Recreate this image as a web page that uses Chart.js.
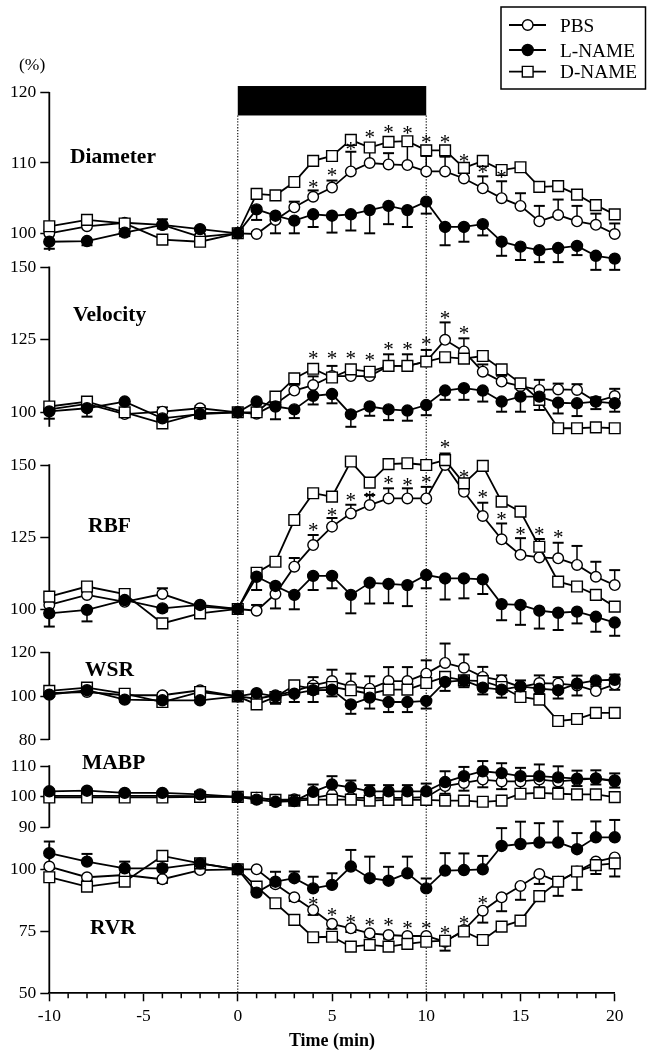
<!DOCTYPE html>
<html>
<head>
<meta charset="utf-8">
<script src="https://cdn.jsdelivr.net/npm/chart.js@4.4.1/dist/chart.umd.min.js"></script>
<style>
html,body{margin:0;padding:0;background:#fff;}
canvas{display:block;}
</style>
</head>
<body>
<canvas id="c" width="647" height="1055"></canvas>
<script>
// ---------------- DATA ----------------
const times = [-10,-8,-6,-4,-2,0,1,2,3,4,5,6,7,8,9,10,11,12,13,14,15,16,17,18,19,20];
const seriesNames = ['PBS', 'L-NAME', 'D-NAME'];
const xTickLabels = [-10, -5, 0, 5, 10, 15, 20];
const treatmentWindow = [0, 10];

const diameterTicks = [100, 110, 120];
const velocityTicks = [100, 125, 150];
const rbfTicks = [100, 125, 150];
const wsrTicks = [80, 100, 120];
const mabpTicks = [90, 100, 110];
const rvrTicks = [50, 75, 100];

const diameterPBS   = [100.0,101.0,101.5,101.2,99.5,100,99.9,101.9,103.7,105.2,106.5,108.8,110.0,109.8,109.7,108.8,108.8,107.8,106.4,105.0,103.9,101.7,102.6,101.7,101.2,99.9];
const diameterLNAME = [98.8,98.9,100.1,101.2,100.6,100,103.4,102.5,101.8,102.7,102.5,102.7,103.3,103.9,103.3,104.5,100.9,100.9,101.3,98.8,98.1,97.6,97.9,98.2,96.8,96.4];
const diameterDNAME = [101.0,101.9,101.4,99.1,98.8,100,105.6,105.4,107.3,110.3,111.0,113.3,112.2,113.0,113.1,111.8,111.8,109.3,110.3,109.0,109.4,106.6,106.7,105.5,104.0,102.7];
const diameterPBSErr   = [0.5,0.6,0.5,0.8,0.4,0,0.3,0.8,0.8,0.9,1.0,2.8,1.8,1.6,3.3,2.2,2.1,1.7,1.7,2.4,1.8,2.2,2.2,2.2,1.6,1.5];
const diameterLNAMEErr = [1.0,0.6,0.5,0.5,0.3,0,1.5,2.5,1.8,1.8,2.4,2.3,3.3,2.6,2.4,1.7,2.6,2.1,1.6,2.0,1.9,1.7,2.0,1.3,2.0,1.6];
const diameterStars = [[4,107.1],[5,108.8],[6,112.5],[7,114.2],[8,114.9],[9,114.7],[10,113.5],[11,113.5],[12,110.8],[13,109.2],[14,108.5]];

const velocityPBS   = [101.0,102.9,99.4,100.2,101.4,100,99.5,102.9,107.5,109.4,112.5,112.5,112.5,116.0,116.0,117.5,125.0,121.0,114.0,110.6,109.0,107.7,107.9,107.7,103.7,105.6];
const velocityLNAME = [100.3,101.4,103.7,97.9,99.4,100,103.7,102.0,101.0,105.7,106.3,99.3,102.0,101.0,100.6,102.5,107.5,108.3,107.5,103.7,105.4,105.4,103.3,103.1,103.7,103.1];
const velocityDNAME = [102.0,103.7,100.0,96.2,99.7,100,100.0,105.4,111.7,115.0,112.0,114.8,114.0,116.0,116.0,117.5,119.0,118.5,119.4,114.8,110.0,104.3,94.5,94.5,94.8,94.5];
const velocityPBSErr   = [0.6,1.0,0.6,1.5,0.8,0,0.6,1.2,2.0,3.0,3.5,2.5,2.5,4.0,4.0,4.0,6.0,4.5,2.5,2.0,2.5,3.5,2.0,2.0,1.5,2.5];
const velocityLNAMEErr = [2.5,2.9,1.0,1.5,0.5,0,1.0,4.4,3.0,3.0,3.2,4.3,3.2,3.7,3.5,3.5,3.2,4.0,3.8,3.5,5.2,4.6,3.7,4.4,2.6,2.9];
const velocityStars = [[4,119.8],[5,119.8],[6,119.8],[7,119.4],[8,122.9],[9,122.9],[10,124.9],[11,133.6],[12,128.4]];

const rbfPBS   = [101.4,104.9,102.5,105.2,100.8,100,99.4,105.2,114.7,122.2,128.6,133.2,136.1,138.4,138.4,138.4,150.0,140.7,132.3,124.2,118.8,117.9,117.6,115.3,111.2,108.3];
const rbfLNAME = [98.5,99.7,103.1,100.2,101.4,100,111.2,108.0,104.9,111.5,111.5,104.9,109.1,108.7,108.3,111.8,110.6,110.6,110.3,101.7,101.4,99.4,98.7,99.1,97.3,95.3];
const rbfDNAME = [104.3,107.8,105.2,95.0,98.5,100,112.6,116.4,130.9,140.2,139.0,151.2,143.9,150.3,150.6,150.0,151.7,143.6,149.7,137.3,133.8,121.6,109.5,107.8,104.9,100.8];
const rbfPBSErr   = [1.0,1.0,1.0,2.0,1.0,0,2.0,2.0,3.0,3.5,3.0,3.0,3.5,3.5,3.5,4.0,4.0,4.0,4.6,5.5,5.8,6.4,5.4,6.6,5.2,5.2];
const rbfLNAMEErr = [4.6,4.0,1.0,1.0,0.5,0,4.6,7.8,5.0,4.9,4.3,6.4,7.2,6.7,7.3,4.6,7.3,6.9,5.1,5.6,6.9,6.2,6.0,4.1,5.2,4.6];
const rbfStars = [[4,128.6],[5,133.8],[6,139.0],[7,139.6],[8,145.0],[9,144.2],[10,145.4],[11,157.5],[12,147.1],[13,140.2],[14,132.6],[15,127.4],[16,127.4],[17,126.3]];

const wsrPBS   = [101.5,102.0,100.5,100.5,102.8,100,98.9,100.5,102.4,105.0,107.0,104.6,103.5,107.0,107.0,110.4,115.3,113.1,108.9,107.3,104.3,106.1,105.8,105.0,102.4,105.5];
const wsrLNAME = [100.8,102.8,98.5,98.2,98.2,100,101.5,100.0,101.2,102.8,103.0,96.3,99.4,97.4,97.4,97.9,106.6,107.3,104.0,103.1,104.6,103.5,102.8,105.8,107.3,107.6];
const wsrDNAME = [102.5,104.0,101.2,97.4,102.0,100,96.3,99.7,105.0,103.5,104.3,102.8,101.2,103.1,103.1,106.1,108.9,107.3,107.0,104.3,99.7,98.5,88.7,89.6,92.4,92.4];
const wsrPBSErr   = [1.5,1.0,0.5,1.0,1.0,0,1.0,1.0,2.0,3.8,5.2,5.8,5.7,6.4,6.4,6.1,8.9,6.1,4.6,2.3,3.0,3.5,3.0,4.5,2.0,4.5];
const wsrLNAMEErr = [1.0,1.0,1.0,1.0,1.0,0,2.0,3.4,3.8,5.4,3.0,4.3,5.0,4.6,4.6,3.5,4.1,3.1,3.1,3.7,4.1,2.3,3.8,5.4,2.0,4.6];

const mabpPBS   = [100.3,100.3,100.3,100.3,100.2,100,99.7,99.0,99.2,99.7,100.7,99.7,99.7,99.7,99.7,99.9,103.5,104.5,105.6,105.0,105.0,105.6,105.0,105.5,106.0,105.0];
const mabpLNAME = [101.8,102.0,101.3,101.3,100.8,100,99.1,98.4,98.6,101.6,104.0,103.1,101.8,101.8,101.8,101.8,104.8,106.7,108.3,107.7,106.7,106.7,106.3,105.9,105.9,105.3];
const mabpDNAME = [99.8,99.8,99.8,99.8,100.0,100,99.7,99.0,98.8,99.1,99.1,99.1,98.8,99.0,99.0,99.0,98.8,98.8,98.4,98.8,101.0,101.3,101.0,100.8,100.8,99.9];
const mabpPBSErr   = [0.5,0.5,0.5,0.5,0.5,0,0.5,1.0,1.0,1.5,1.5,1.5,1.5,1.5,1.5,1.5,2.5,2.5,2.5,2.5,2.5,2.5,2.0,2.0,2.0,2.0];
const mabpLNAMEErr = [0.6,0.6,0.6,0.6,0.5,0,0.5,1.0,1.0,2.4,2.7,2.2,2.0,2.0,2.0,2.5,3.5,3.0,3.3,3.2,2.7,3.8,3.6,2.6,2.7,2.3];

const rvrPBS   = [101.1,96.8,97.7,96.0,99.7,100,100.0,94.0,88.7,83.6,78.0,76.2,74.2,73.5,73.1,73.1,70.8,75.5,83.3,88.7,93.3,98.1,95.0,99.1,103.1,104.8];
const rvrLNAME = [106.5,103.1,100.4,100.4,102.4,100,90.6,95.0,96.4,92.3,93.7,101.1,96.4,95.4,98.4,92.3,99.5,99.7,100.0,109.4,110.2,110.8,110.8,108.1,112.9,112.9];
const rvrDNAME = [96.8,93.0,95.0,105.4,102.4,100,93.0,86.3,79.6,72.6,72.8,68.8,69.5,68.8,69.9,70.8,71.2,74.9,71.5,76.9,79.3,89.2,95.0,99.1,101.7,102.4];
const rvrPBSErr   = [1.0,1.5,1.5,1.5,1.0,0,0.5,1.0,1.5,2.0,2.0,1.5,1.5,1.5,1.5,1.5,3.6,1.0,4.8,5.6,5.6,4.0,5.7,7.4,5.0,7.7];
const rvrLNAMEErr = [4.7,3.1,2.7,1.5,1.5,0,1.0,4.0,2.7,4.7,4.7,6.7,8.7,5.6,6.7,4.0,7.0,6.7,5.4,7.2,9.0,7.8,8.5,6.5,6.4,7.0];
const rvrStars = [[4,87.6],[5,82.9],[6,80.2],[7,78.9],[8,78.9],[9,77.6],[10,77.6],[11,75.8],[12,79.8],[13,87.9]];

// ---------------- LAYOUT / STYLE ----------------
const W = 647, H = 1055;
const AREA_TOP = 92.7, AREA_BOTTOM = 993.3, AREA_LEFT = 49.3, AREA_RIGHT = 614.7;
const SERIF = '"Liberation Serif", "Times New Roman", Times, serif';

const panels = [
  {id:'yDiameter', name:'Diameter', ticks:diameterTicks, anchors:[[120,92.7],[100,233.3]], span:[97.5,120], label:[70,155.5],
   pbs:diameterPBS, ln:diameterLNAME, dn:diameterDNAME, pbsErr:diameterPBSErr, lnErr:diameterLNAMEErr, pbsDir:1, lnDir:-1, stars:diameterStars},
  {id:'yVelocity', name:'Velocity', ticks:velocityTicks, anchors:[[150,267.3],[100,412.3]], span:[95,150], label:[73,314],
   pbs:velocityPBS, ln:velocityLNAME, dn:velocityDNAME, pbsErr:velocityPBSErr, lnErr:velocityLNAMEErr, pbsDir:1, lnDir:-1, stars:velocityStars},
  {id:'yRBF', name:'RBF', ticks:rbfTicks, anchors:[[150,465],[100,609]], span:[94,150], label:[88,525],
   pbs:rbfPBS, ln:rbfLNAME, dn:rbfDNAME, pbsErr:rbfPBSErr, lnErr:rbfLNAMEErr, pbsDir:1, lnDir:-1, stars:rbfStars},
  {id:'yWSR', name:'WSR', ticks:wsrTicks, anchors:[[120,652.7],[80,740]], span:[80,120], label:[85,668.5],
   pbs:wsrPBS, ln:wsrLNAME, dn:wsrDNAME, pbsErr:wsrPBSErr, lnErr:wsrLNAMEErr, pbsDir:1, lnDir:-1, stars:[]},
  {id:'yMABP', name:'MABP', ticks:mabpTicks, anchors:[[110,766],[90,827.7]], span:[90,110], label:[82,762],
   pbs:mabpPBS, ln:mabpLNAME, dn:mabpDNAME, pbsErr:mabpPBSErr, lnErr:mabpLNAMEErr, pbsDir:-1, lnDir:1, stars:[]},
  {id:'yRVR', name:'RVR', ticks:rvrTicks, anchors:[[100,869.3],[50,993.3]], span:[50,110], label:[90,926.5],
   pbs:rvrPBS, ln:rvrLNAME, dn:rvrDNAME, pbsErr:rvrPBSErr, lnErr:rvrLNAMEErr, pbsDir:-1, lnDir:1, stars:rvrStars},
];

function axisRange(anchors) {
  const [[v1,p1],[v2,p2]] = anchors;
  const s = (p2 - p1) / (v1 - v2);
  return { max: v1 + (p1 - AREA_TOP) / s, min: v2 - (AREA_BOTTOM - p2) / s };
}

const styles = {
  'PBS':    {pointStyle:'circle', pointRadius:5.3, bg:'#fff'},
  'L-NAME': {pointStyle:'circle', pointRadius:5.5, bg:'#000'},
  'D-NAME': {pointStyle:'rect',   pointRadius:7.6, bg:'#fff'}
};

function makeDataset(name, values, yId) {
  const st = styles[name];
  return {
    label: name,
    data: times.map((t, i) => ({x: t, y: values[i]})),
    xAxisID: 'x', yAxisID: yId,
    borderColor: '#000', borderWidth: 1.8,
    pointStyle: st.pointStyle, pointRadius: st.pointRadius,
    pointBackgroundColor: st.bg, pointBorderColor: '#000', pointBorderWidth: 1.4,
    pointHoverRadius: st.pointRadius,
    tension: 0, clip: false, fill: false
  };
}

const datasets = [];
panels.forEach(p => {
  datasets.push(makeDataset('L-NAME', p.ln, p.id));
  datasets.push(makeDataset('D-NAME', p.dn, p.id));
  datasets.push(makeDataset('PBS', p.pbs, p.id));
});

const isMajorX = v => xTickLabels.includes(v);

const scales = {
  x: {
    type: 'linear', position: 'bottom', min: -10, max: 20,
    afterFit: s => { s.height = H - AREA_BOTTOM; },
    ticks: {
      stepSize: 1, autoSkip: false, maxRotation: 0, padding: 5, color: '#000',
      font: {family: SERIF, size: 17.5},
      callback: v => isMajorX(v) ? String(v) : ''
    },
    grid: {drawOnChartArea: false, tickLength: 8, tickWidth: 1.5,
           color: '#000',
           tickColor: c => (c.tick && isMajorX(c.tick.value)) ? '#000' : 'rgba(0,0,0,0)'},
    border: {color: '#000', width: 1.8},
    title: {display: true, text: 'Time (min)', color: '#000',
            font: {family: SERIF, size: 18, weight: 'bold'}, padding: {top: 0, bottom: 2.5}}
  }
};
panels.forEach(p => {
  const r = axisRange(p.anchors);
  scales[p.id] = {
    type: 'linear', position: 'left', min: r.min, max: r.max, bounds: 'data',
    afterFit: s => { s.width = 0; },
    afterBuildTicks: s => { s.ticks = p.ticks.map(v => ({value: v})); },
    ticks: {color: '#000', padding: 4, autoSkip: false, font: {family: SERIF, size: 17.5}, callback: v => String(v)},
    grid: {drawOnChartArea: false, tickLength: 9, color: '#000', tickWidth: 1.5},
    border: {display: false}
  };
});

// all panel axes share the same left edge: widen their boxes after layout so labels are not clipped
const sharedAxis = {
  id: 'sharedAxis',
  afterLayout(chart) {
    panels.forEach(p => {
      const s = chart.scales[p.id];
      s.left = 0; s.right = chart.chartArea.left; s.width = s.right;
    });
  }
};

const BAR_TOP_VALUE = 120.95, BAR_BOTTOM_VALUE = 116.76; // on the Diameter axis

const decor = {
  id: 'decor',
  beforeDatasetsDraw(chart) {
    const ctx = chart.ctx, xs = chart.scales.x, area = chart.chartArea;
    ctx.save();
    // minor x ticks (shorter)
    ctx.strokeStyle = '#000'; ctx.lineWidth = 1.5;
    xs.ticks.forEach(t => {
      if (isMajorX(t.value)) return;
      const x = xs.getPixelForValue(t.value);
      ctx.beginPath(); ctx.moveTo(x, area.bottom); ctx.lineTo(x, area.bottom + 5); ctx.stroke();
    });
    // y-axis segments
    ctx.lineWidth = 1.8; ctx.lineCap = 'butt';
    panels.forEach(p => {
      const s = chart.scales[p.id];
      ctx.beginPath();
      ctx.moveTo(area.left, s.getPixelForValue(p.span[1]) - 0.8);
      ctx.lineTo(area.left, s.getPixelForValue(p.span[0]));
      ctx.stroke();
    });
    // treatment bar
    const dia = chart.scales.yDiameter;
    const bx0 = xs.getPixelForValue(treatmentWindow[0]), bx1 = xs.getPixelForValue(treatmentWindow[1]);
    const by0 = dia.getPixelForValue(BAR_TOP_VALUE), by1 = dia.getPixelForValue(BAR_BOTTOM_VALUE);
    ctx.fillStyle = '#000';
    ctx.fillRect(bx0, by0, bx1 - bx0, by1 - by0);
    // dotted guide lines
    ctx.setLineDash([1.3, 1.6]); ctx.lineWidth = 1.1; ctx.strokeStyle = '#000';
    treatmentWindow.forEach(t => {
      const x = xs.getPixelForValue(t);
      ctx.beginPath(); ctx.moveTo(x, by1); ctx.lineTo(x, area.bottom); ctx.stroke();
    });
    ctx.setLineDash([]);
    // error bars
    panels.forEach(p => {
      const s = chart.scales[p.id];
      [[p.pbs, p.pbsErr, p.pbsDir], [p.ln, p.lnErr, p.lnDir]].forEach(([vals, errs, dir]) => {
        times.forEach((t, i) => {
          const e = errs[i];
          if (!e) return;
          const x = xs.getPixelForValue(t);
          const y1 = s.getPixelForValue(vals[i]);
          const y2 = s.getPixelForValue(vals[i] + dir * e);
          ctx.lineWidth = 1.5;
          ctx.beginPath(); ctx.moveTo(x, y1); ctx.lineTo(x, y2); ctx.stroke();
          ctx.lineWidth = 2;
          ctx.beginPath(); ctx.moveTo(x - 5.5, y2); ctx.lineTo(x + 5.5, y2); ctx.stroke();
        });
      });
    });
    ctx.restore();
  },
  afterDatasetsDraw(chart) {
    const ctx = chart.ctx, xs = chart.scales.x;
    ctx.save();
    ctx.fillStyle = '#000';
    // asterisks
    ctx.font = '21px ' + SERIF;
    ctx.textAlign = 'center'; ctx.textBaseline = 'alphabetic';
    panels.forEach(p => {
      const s = chart.scales[p.id];
      p.stars.forEach(([t, v]) => {
        ctx.fillText('*', xs.getPixelForValue(t), s.getPixelForValue(v) + 10.5);
      });
    });
    // panel names
    ctx.font = 'bold 21.5px ' + SERIF;
    ctx.textAlign = 'left';
    panels.forEach(p => { ctx.fillText(p.name, p.label[0], p.label[1] + 7.2); });
    // (%) unit
    ctx.font = '17.5px ' + SERIF;
    ctx.fillText('(%)', 19, 70);
    // legend
    ctx.lineWidth = 1.5; ctx.strokeStyle = '#000';
    ctx.strokeRect(501, 7, 144.5, 82);
    const rows = [25, 50, 71.7];
    seriesNames.forEach((name, i) => {
      const y = rows[i], st = styles[name];
      ctx.lineWidth = 1.8;
      ctx.beginPath(); ctx.moveTo(509, y); ctx.lineTo(546, y); ctx.stroke();
      ctx.lineWidth = 1.4; ctx.fillStyle = st.bg;
      ctx.beginPath();
      if (st.pointStyle === 'rect') {
        const h = st.pointRadius * Math.SQRT1_2;
        ctx.rect(527.7 - h, y - h, 2 * h, 2 * h);
      } else {
        ctx.arc(527.7, y, st.pointRadius, 0, Math.PI * 2);
      }
      ctx.fill(); ctx.stroke();
      ctx.fillStyle = '#000';
      ctx.font = '19.3px ' + SERIF;
      ctx.fillText(name, 560, y + 6.6);
    });
    ctx.restore();
  }
};

new Chart(document.getElementById('c'), {
  type: 'line',
  data: {datasets},
  options: {
    responsive: false, animation: false, events: [],
    layout: {padding: {left: AREA_LEFT, right: W - AREA_RIGHT, top: AREA_TOP, bottom: 0}},
    plugins: {legend: {display: false}, tooltip: {enabled: false}},
    scales
  },
  plugins: [sharedAxis, decor]
});
</script>
</body>
</html>
